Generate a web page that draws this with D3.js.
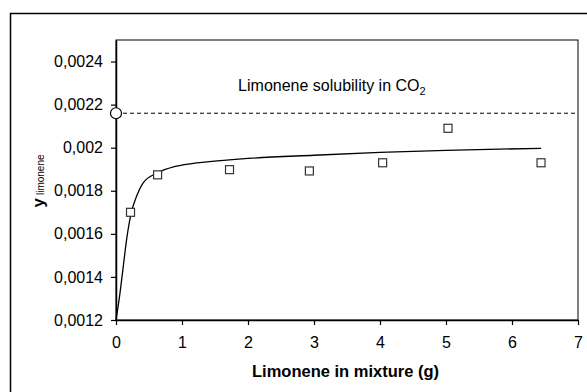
<!DOCTYPE html>
<html>
<head>
<meta charset="utf-8">
<script src="https://cdn.jsdelivr.net/npm/d3@7"></script>
<style>
  body { margin: 0; background: #fff; }
  text { font-family: "Liberation Sans", Arial, sans-serif; fill: #000; }
</style>
</head>
<body>
<div id="chart"></div>
<script>
// measured points (squares)
var massX = [0.22, 0.63, 1.72, 2.93, 4.04, 5.03, 6.44];
var yLim = [0.00170, 0.001874, 0.001898, 0.001892, 0.00193, 0.00209, 0.00193];

// fitted model curve
var fitX = [0, 0.06, 0.11, 0.16, 0.23, 0.31, 0.41, 0.62, 0.9, 1.15, 1.63, 2, 3, 4, 5, 6.44];
var fitY = [0.0012, 0.001324, 0.001448, 0.001572, 0.001696, 0.001773, 0.001836, 0.001882,
  0.001913, 0.001926, 0.001941, 0.00195, 0.001965, 0.001978, 0.001988, 0.001997];

// solubility limit
var solubility = 0.00216;

var xTicks = [0, 1, 2, 3, 4, 5, 6, 7];
var yTicks = [0.0012, 0.0014, 0.0016, 0.0018, 0.002, 0.0022, 0.0024];

var svgWidth = 587;
var svgHeight = 392;

var margin = { top: 40, right: 9, bottom: 72, left: 116 };
var width = svgWidth - margin.left - margin.right;
var height = svgHeight - margin.top - margin.bottom;

var svg = d3.select("#chart")
  .append("svg")
  .attr("width", svgWidth)
  .attr("height", svgHeight);

// outer frame, runs off the right and bottom edge
svg.append("rect")
  .attr("x", 10.5)
  .attr("y", 13.5)
  .attr("width", 620)
  .attr("height", 420)
  .attr("fill", "none")
  .attr("stroke", "#000")
  .attr("stroke-width", 1.5);

var chartGroup = svg.append("g")
  .attr("transform", `translate(${margin.left}, ${margin.top})`);

var xScale = d3.scaleLinear().domain([0, 7]).range([0, width]);
var yScale = d3.scaleLinear().domain([0.0012, 0.0025]).range([height, 0]);

// plot border
chartGroup.append("rect")
  .attr("width", width)
  .attr("height", height)
  .attr("fill", "none")
  .attr("stroke", "#000")
  .attr("stroke-width", 1);

var fmt = d => d3.format(".4f")(d).replace(/0+$/, "").replace(".", ",");

var bottomAxis = d3.axisBottom(xScale).tickValues(xTicks).tickSize(5).tickSizeOuter(0).tickPadding(12)
  .tickFormat(d3.format("d"));
var leftAxis = d3.axisLeft(yScale).tickValues(yTicks).tickSize(5).tickSizeOuter(0).tickPadding(8)
  .tickFormat(fmt);

var gx = chartGroup.append("g")
  .attr("transform", `translate(0, ${height})`)
  .call(bottomAxis);
var gy = chartGroup.append("g").call(leftAxis);

[gx, gy].forEach(function(g) {
  g.select(".domain").attr("stroke", "#000").attr("stroke-width", 1.5);
  g.selectAll(".tick line").attr("stroke", "#000").attr("stroke-width", 1.2);
  g.selectAll(".tick text")
    .style("font-family", "'Liberation Sans', Arial, sans-serif")
    .style("font-size", "16px")
    .attr("fill", "#000");
});

// dashed solubility line
chartGroup.append("line")
  .attr("x1", xScale(0))
  .attr("x2", width)
  .attr("y1", yScale(solubility))
  .attr("y2", yScale(solubility))
  .attr("stroke", "#000")
  .attr("stroke-width", 1)
  .attr("stroke-dasharray", "4,3");

chartGroup.append("text")
  .attr("x", xScale(1.85))
  .attr("y", yScale(0.002262))
  .style("font-size", "16px")
  .text("Limonene solubility in CO")
  .append("tspan")
  .attr("dy", 4)
  .style("font-size", "11px")
  .text("2");

// fitted curve
var fitData = fitX.map((x, i) => ({ x: x, y: fitY[i] }));
chartGroup.append("path")
  .datum(fitData)
  .attr("fill", "none")
  .attr("stroke", "#000")
  .attr("stroke-width", 1.3)
  .attr("d", d3.line().x(d => xScale(d.x)).y(d => yScale(d.y)).curve(d3.curveMonotoneX));

// circle at x = 0
chartGroup.append("circle")
  .attr("cx", xScale(0))
  .attr("cy", yScale(solubility))
  .attr("r", 5.5)
  .attr("fill", "#fff")
  .attr("stroke", "#000")
  .attr("stroke-width", 1.2);

// squares
var pts = massX.map((x, i) => ({ x: x, y: yLim[i] }));
chartGroup.selectAll("rect.pt")
  .data(pts)
  .enter()
  .append("rect")
  .attr("class", "pt")
  .attr("x", d => xScale(d.x) - 4)
  .attr("y", d => yScale(d.y) - 4)
  .attr("width", 8)
  .attr("height", 8)
  .attr("fill", "#fff")
  .attr("stroke", "#333")
  .attr("stroke-width", 1.2);

// axis labels
chartGroup.append("text")
  .attr("x", 345.5 - margin.left)
  .attr("y", height + 57)
  .attr("text-anchor", "middle")
  .style("font-size", "16.5px")
  .style("font-weight", "bold")
  .text("Limonene in mixture (g)");

var yLabel = svg.append("text")
  .attr("transform", "translate(44, 181) rotate(-90)")
  .attr("text-anchor", "middle");
yLabel.append("tspan")
  .style("font-size", "17px")
  .style("font-weight", "bold")
  .text("y");
yLabel.append("tspan")
  .attr("dx", 3)
  .style("font-size", "10px")
  .text("limonene");
</script>
</body>
</html>
